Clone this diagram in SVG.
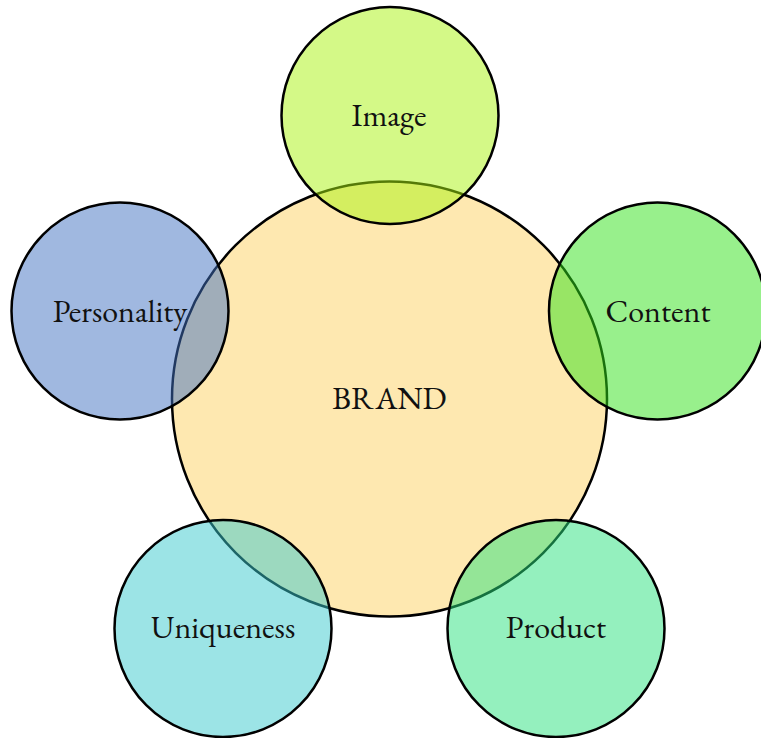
<svg xmlns="http://www.w3.org/2000/svg" width="761" height="738" viewBox="0 0 761 738">
<style>
circle{stroke:#000;stroke-width:2.5}
.sat{fill-opacity:0.5}
text{font-family:"EB Garamond","Liberation Serif",serif;font-size:32px;fill:#111;text-anchor:middle}
</style>
<rect width="761" height="738" fill="#fff"/>
<g id="brand"><circle cx="389.5" cy="399" r="217.5" fill="#FEE8B0"/><text x="389.5" y="409">BRAND</text></g>
<g id="image"><circle class="sat" cx="390" cy="115.5" r="108.5" fill="#A9F30F"/><text x="389" y="126">Image</text></g>
<g id="personality"><circle class="sat" cx="120" cy="311" r="108.5" fill="#4171C1"/><text x="120" y="322">Personality</text></g>
<g id="content"><circle class="sat" cx="657.5" cy="311" r="108.5" fill="#31E119"/><text x="658" y="322">Content</text></g>
<g id="uniqueness"><circle class="sat" cx="223" cy="628.5" r="108.5" fill="#39C9CD"/><text x="223" y="638">Uniqueness</text></g>
<g id="product"><circle class="sat" cx="556" cy="628.5" r="108.5" fill="#29E17D"/><text x="556" y="638">Product</text></g>
<g id="connectors"></g>
</svg>
